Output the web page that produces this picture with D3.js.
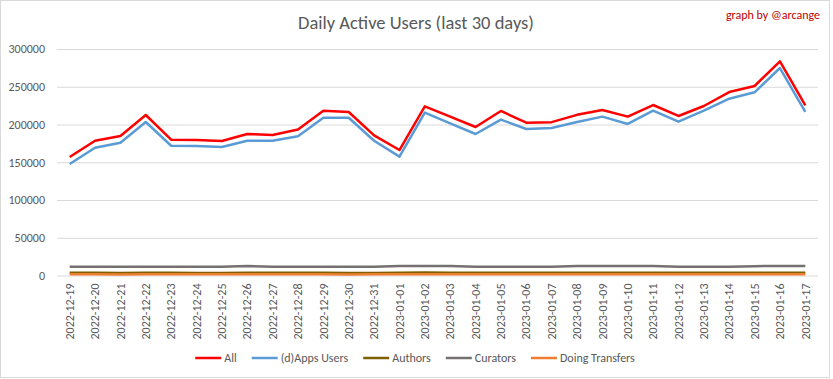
<!DOCTYPE html>
<html>
<head>
<meta charset="utf-8">
<script src="https://cdn.jsdelivr.net/npm/d3@7"></script>
<style>
  body { margin: 0; background: #fff; }
  svg { display: block; }
  text { font-family: Carlito, Calibri, "Liberation Sans Narrow", Lato, sans-serif; }
</style>
</head>
<body>
<div id="chart"></div>
<script>
const WIDTH = 833;
const HEIGHT = 379;
const margin = { top: 49, right: 15, bottom: 103.5, left: 57 };

// Data
const dates = [
  "2022-12-19", "2022-12-20", "2022-12-21", "2022-12-22", "2022-12-23", "2022-12-24",
  "2022-12-25", "2022-12-26", "2022-12-27", "2022-12-28", "2022-12-29", "2022-12-30",
  "2022-12-31", "2023-01-01", "2023-01-02", "2023-01-03", "2023-01-04", "2023-01-05",
  "2023-01-06", "2023-01-07", "2023-01-08", "2023-01-09", "2023-01-10", "2023-01-11",
  "2023-01-12", "2023-01-13", "2023-01-14", "2023-01-15", "2023-01-16", "2023-01-17"
];
const allUsers = [157000, 178500, 184800, 212600, 179900, 179500, 178100, 187400, 186100, 193300,
  218300, 216600, 185700, 166200, 224100, 210400, 196700, 217900, 202400, 203100,
  212800, 219200, 210400, 225800, 211300, 224500, 243000, 251000, 283700, 225400];
const appsUsers = [147700, 169300, 175900, 203300, 171900, 171600, 170200, 178500, 178500, 184300,
  209000, 209000, 178500, 157400, 215700, 201600, 187400, 206400, 194000, 195400,
  203300, 210400, 200700, 218300, 203700, 218300, 234200, 242600, 274800, 216600];
const authors = [3600, 3500, 3400, 3600, 3500, 3400, 3300, 3600, 3700, 3600,
  3500, 3300, 3400, 3700, 3900, 3800, 3700, 3800, 3600, 3500,
  3700, 3800, 3700, 3800, 3600, 3700, 3800, 3700, 3800, 3700];
const curators = [11500, 11500, 11500, 11500, 11500, 11500, 11600, 12600, 11600, 11600,
  11600, 11500, 11600, 12600, 12700, 12600, 11700, 11600, 11600, 11600,
  12500, 12600, 12600, 12600, 11700, 11600, 11700, 12400, 12500, 12500];
const transfers = [1800, 1600, 1300, 1600, 1500, 1500, 1500, 1600, 1700, 1700,
  1600, 1300, 1500, 1700, 1800, 1800, 1800, 1800, 1700, 1600,
  1500, 1600, 1700, 1700, 1700, 1700, 1800, 1800, 1800, 1800];
const yTicks = [0, 50000, 100000, 150000, 200000, 250000, 300000];

const series = [
  { name: "All", values: allUsers, color: "#FF0000" },
  { name: "(d)Apps Users", values: appsUsers, color: "#5B9BD5" },
  { name: "Authors", values: authors, color: "#7F6000" },
  { name: "Curators", values: curators, color: "#767171" },
  { name: "Doing Transfers", values: transfers, color: "#ED7D31" }
];

const svg = d3.select("#chart")
  .append("svg")
  .attr("width", WIDTH)
  .attr("height", HEIGHT);

svg.append("rect")
  .attr("x", 0.5).attr("y", 0.5)
  .attr("width", 829).attr("height", 377)
  .attr("fill", "#fff")
  .attr("stroke", "#D9D9D9");

const x = d3.scaleBand()
  .domain(dates)
  .range([margin.left, WIDTH - margin.right])
  .padding(0);

const y = d3.scaleLinear()
  .domain([0, 300000])
  .range([HEIGHT - margin.bottom, margin.top]);

// gridlines + y labels
const yAxis = svg.append("g")
  .attr("transform", `translate(${margin.left},0)`)
  .call(d3.axisLeft(y).tickValues(yTicks).tickSize(-(WIDTH - margin.left - margin.right)).tickPadding(12).tickFormat(d3.format("d")));
yAxis.select(".domain").remove();
yAxis.selectAll("line").attr("stroke", "#D9D9D9");
yAxis.selectAll("text")
  .attr("fill", "#595959")
  .style("font-size", "12px");

// x labels (rotated)
const xAxis = svg.append("g")
  .attr("transform", `translate(0,${HEIGHT - margin.bottom})`)
  .call(d3.axisBottom(x).tickSize(0));
xAxis.select(".domain").remove();
xAxis.selectAll("text")
  .attr("fill", "#595959")
  .style("font-size", "12px")
  .attr("transform", "rotate(-90)")
  .attr("text-anchor", "end")
  .attr("x", -8)
  .attr("y", 0)
  .attr("dy", "0.35em");

const line = d3.line()
  .x((d, i) => x(dates[i]) + x.bandwidth() / 2)
  .y(d => y(d));

svg.selectAll(".series")
  .data(series)
  .enter()
  .append("path")
  .attr("class", "series")
  .attr("fill", "none")
  .attr("stroke", d => d.color)
  .attr("stroke-width", 2.5)
  .attr("stroke-linejoin", "round")
  .attr("d", d => line(d.values));

// title
svg.append("text")
  .attr("x", 416)
  .attr("y", 29)
  .attr("text-anchor", "middle")
  .attr("fill", "#595959")
  .style("font-size", "18.5px")
  .text("Daily Active Users (last 30 days)");

svg.append("text")
  .attr("x", 820)
  .attr("y", 19)
  .attr("text-anchor", "end")
  .attr("fill", "#C00000")
  .style("font-size", "12px")
  .text("graph by @arcange");

// legend
const legend = svg.append("g");
let lx = 0;
series.forEach(s => {
  const g = legend.append("g").attr("transform", `translate(${lx},0)`);
  g.append("line")
    .attr("x1", 0).attr("x2", 26)
    .attr("y1", 0).attr("y2", 0)
    .attr("stroke", s.color)
    .attr("stroke-width", 2.5);
  const t = g.append("text")
    .attr("x", 29)
    .attr("y", 0)
    .attr("dy", "0.35em")
    .attr("fill", "#595959")
    .style("font-size", "12px")
    .text(s.name);
  lx += 29 + t.node().getComputedTextLength() + 15;
});
const legendWidth = lx - 15;
legend.attr("transform", `translate(${415 - legendWidth / 2},358)`);
</script>
</body>
</html>
